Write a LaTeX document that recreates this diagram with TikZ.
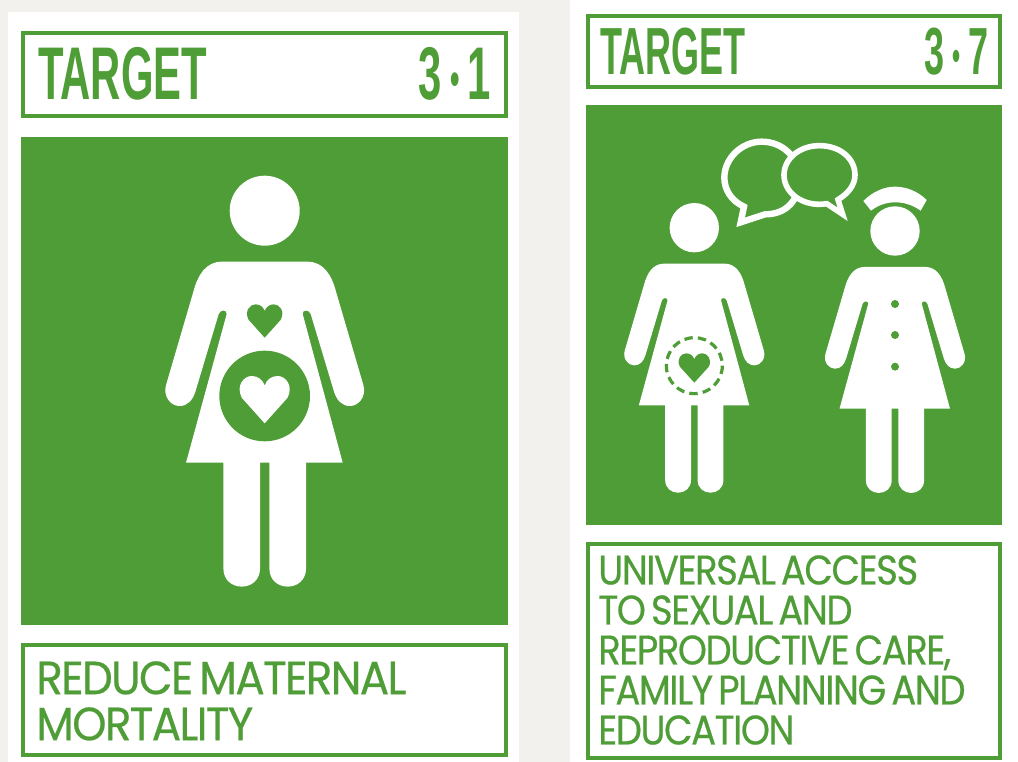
\documentclass[tikz,border=0pt]{standalone}
\usepackage{fontspec}
\newfontfamily\tgtA[FakeStretch=0.56]{Liberation Sans Bold}
\newfontfamily\tgtB[FakeStretch=0.54]{Liberation Sans Bold}
\newfontfamily\captA[LetterSpace=-3.5,FakeStretch=0.935,FakeBold=0.45,WordSpace=0.6]{Poppins}
\newfontfamily\captB[LetterSpace=-3.5,FakeStretch=0.895,FakeBold=0.45,WordSpace=0.6]{Poppins}
\definecolor{sdg}{RGB}{78,157,55}
\definecolor{paper}{RGB}{243,241,238}
\tikzset{
  framebox/.style={draw=sdg,line width=3pt,fill=white},
  panel/.style={fill=sdg},
  white part/.style={fill=white},
  green part/.style={fill=sdg},
  targetA/.style={text=sdg,inner sep=0pt,font=\tgtA\fontsize{56}{56}\selectfont},
  targetB/.style={text=sdg,inner sep=0pt,font=\tgtB\fontsize{50}{50}\selectfont},
  captionA/.style={text=sdg,inner sep=0pt,align=left,anchor=north west,font=\captA\fontsize{35}{34.5}\selectfont},
  captionB/.style={text=sdg,inner sep=0pt,align=left,anchor=north west,font=\captB\fontsize{31}{30}\selectfont},
}
\newcommand{\dotA}{\kern6pt{\fontsize{36}{36}\selectfont\raisebox{3.5pt}{•}}\kern6pt}
\newcommand{\dotB}{\kern6pt{\fontsize{32}{32}\selectfont\raisebox{3pt}{•}}\kern6pt}
% person: origin at head centre, drawn in units of the left figure (0.25pt)
\newcommand{\personshape}[4]{%
\begin{scope}[shift={(#1,#2)},x=#3*0.25pt,y=-#3*0.25pt,shift={(-344,-152)}]
  \fill[white part] (344,152) circle (105);
  \fill[white part] (215,305) -- (473,305)
    .. controls (520,305) and (545,345) .. (558,395)
    -- (640,675) .. controls (650,710) and (625,738) .. (600,738)
    .. controls (575,738) and (560,720) .. (552,695)
    -- (482,462) .. controls (478,448) and (456,448) .. (458,462)
    -- (578,908) -- (468,908) -- (468,#4)
    .. controls (468,#4+73) and (358,#4+73) .. (358,#4)
    -- (358,908) -- (330,908) -- (330,#4)
    .. controls (330,#4+73) and (220,#4+73) .. (220,#4)
    -- (220,908) -- (108,908) -- (230,462)
    .. controls (232,448) and (210,448) .. (206,462)
    -- (136,695) .. controls (128,720) and (113,738) .. (88,738)
    .. controls (63,738) and (38,710) .. (48,675)
    -- (130,395) .. controls (143,345) and (168,305) .. (215,305) -- cycle;
\end{scope}}
% heart: centre x, top y, half width, height
\newcommand{\heartshape}[5]{%
\fill[#5] (#1,#2+#4) -- (#1-0.88*#3,#2+0.46*#4)
  .. controls (#1-1.12*#3,#2+0.2*#4) and (#1-0.8*#3,#2) .. (#1-0.5*#3,#2)
  .. controls (#1-0.25*#3,#2) and (#1-0.08*#3,#2+0.08*#4) .. (#1,#2+0.2*#4)
  .. controls (#1+0.08*#3,#2+0.08*#4) and (#1+0.25*#3,#2) .. (#1+0.5*#3,#2)
  .. controls (#1+0.8*#3,#2) and (#1+1.12*#3,#2+0.2*#4) .. (#1+0.88*#3,#2+0.46*#4) -- cycle;}
\begin{document}
\begin{tikzpicture}[x=0.75pt,y=-0.75pt]
\useasboundingbox (0,0) rectangle (1018,762);
\fill[paper] (0,0) rectangle (1018,762);
\fill[white] (8,12) rectangle (519,762);
\fill[white] (570,0) rectangle (1018,762);
% left card
\draw[framebox] (23,33) rectangle (506,116);
\fill[panel] (21,137) rectangle (508,625);
\draw[framebox] (23,645) rectangle (506,755);
\node[targetA,anchor=base west] (t1) at (38,100) {TARGET};
\node[targetA,anchor=base east] (n1) at (491,100) {3\dotA 1};
\personshape{264.7}{210.7}{1}{1225}
\begin{scope}[x=0.25pt,y=-0.25pt,shift={(450,480)}]
  \heartshape{344}{433}{55}{100}{green part}
  \fill[green part] (344,708) circle (136);
  \heartshape{344}{648}{78}{142}{white part}
\end{scope}
\node[captionA] (c1) at (36,661) {REDUCE MATERNAL\\MORTALITY};
% right card
\draw[framebox] (588,16) rectangle (1000,87);
\fill[panel] (586,105) rectangle (1002,525);
\draw[framebox] (588,544) rectangle (1000,758);
\node[targetB,anchor=base west] (t2) at (600,75) {TARGET};
\node[targetB,anchor=base east] (n2) at (989,75) {3\dotB 7};
\begin{scope}[x=0.25pt,y=-0.25pt,shift={(1830,375)}]
  % bubbles
  \draw[white,line width=4.8pt,line join=miter]
    (402,245) -- (392,292) -- (465,268)
    .. controls (530,268) and (568,225) .. (568,160)
    .. controls (568,100) and (520,50) .. (455,50)
    .. controls (395,50) and (343,100) .. (343,158)
    .. controls (343,195) and (365,228) .. (402,245) -- cycle;
  \draw[white,fill=sdg,line width=4.2pt,line join=miter]
    (650,236) -- (698,268) -- (684,224)
    .. controls (715,205) and (735,180) .. (735,150)
    .. controls (735,100) and (690,62) .. (628,62)
    .. controls (570,62) and (522,100) .. (522,150)
    .. controls (522,200) and (570,238) .. (628,238)
    .. controls (635,238) and (643,237) .. (650,236) -- cycle;
\end{scope}
\personshape{694.3}{227.7}{0.705}{1225}
\personshape{895}{231}{0.705}{1212}
\begin{scope}[x=0.25pt,y=-0.25pt,shift={(1830,375)}]
  % womb
  \heartshape{253}{685}{49}{88}{green part}
  \draw[sdg,line width=2.4pt,dash pattern=on 6.3pt off 3.85pt] (253,722) circle (84);
  % nurse cap
  \fill[white part] (760,228) .. controls (790,198) and (825,185) .. (855,185)
    .. controls (890,185) and (925,200) .. (950,225)
    -- (932,257) .. controls (905,238) and (880,232) .. (855,232)
    .. controls (830,232) and (805,240) .. (783,257) -- cycle;
  % buttons
  \fill[green part] (855,537) circle (12);
  \fill[green part] (855,630) circle (12);
  \fill[green part] (855,725) circle (12);
\end{scope}
\node[captionB] (c2) at (598,555) {UNIVERSAL ACCESS\\TO SEXUAL AND\\REPRODUCTIVE CARE,\\FAMILY PLANNING AND\\EDUCATION};
\end{tikzpicture}
\end{document}
